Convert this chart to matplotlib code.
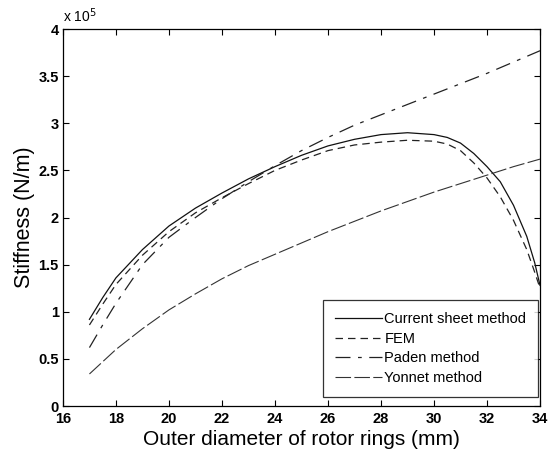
import matplotlib
matplotlib.use("Agg")
import matplotlib.pyplot as plt

# diameter (mm) and stiffness (x 1e5 N/m)
d_cs = [17, 17.5, 18, 19, 20, 21, 22, 23, 24, 25, 26, 27, 28, 29, 30, 30.5, 31, 31.5, 32, 32.5, 33, 33.5, 33.8, 34]
k_cs = [0.92, 1.15, 1.36, 1.66, 1.91, 2.10, 2.26, 2.41, 2.54, 2.66, 2.76, 2.83, 2.88, 2.90, 2.88, 2.85, 2.79, 2.68, 2.54, 2.38, 2.13, 1.80, 1.52, 1.28]

d_fem = [17, 17.5, 18, 19, 20, 21, 22, 23, 24, 25, 26, 27, 28, 29, 30, 30.5, 31, 31.5, 32, 32.5, 33, 33.5, 33.8, 34]
k_fem = [0.86, 1.08, 1.29, 1.60, 1.85, 2.05, 2.21, 2.36, 2.50, 2.61, 2.71, 2.77, 2.80, 2.82, 2.81, 2.78, 2.71, 2.58, 2.42, 2.22, 1.97, 1.66, 1.42, 1.25]

d_paden = [17, 17.5, 18, 19, 20, 21, 22, 23, 24, 25, 26, 27, 28, 29, 30, 31, 32, 33, 34]
k_paden = [0.62, 0.86, 1.09, 1.50, 1.79, 2.00, 2.20, 2.38, 2.55, 2.71, 2.85, 2.98, 3.09, 3.20, 3.31, 3.42, 3.53, 3.65, 3.77]

d_yon = [17, 18, 19, 20, 21, 22, 23, 24, 25, 26, 27, 28, 29, 30, 31, 32, 33, 34]
k_yon = [0.34, 0.60, 0.82, 1.02, 1.19, 1.35, 1.49, 1.61, 1.73, 1.85, 1.96, 2.07, 2.17, 2.27, 2.36, 2.45, 2.54, 2.62]

plt.rcParams['font.family'] = ['Liberation Sans', 'DejaVu Sans']

fig = plt.figure(figsize=(5.57, 4.54), dpi=100)
ax = fig.add_axes([0.113, 0.1057, 0.8565, 0.8303])

scale = 1e5
ax.plot(d_cs, [v * scale for v in k_cs], color="#111111", lw=0.9, ls="-", label="Current sheet method")
ax.plot(d_fem, [v * scale for v in k_fem], color="#222222", lw=0.9, ls=(0, (6, 4)), label="FEM")
ax.plot(d_paden, [v * scale for v in k_paden], color="#222222", lw=0.9, ls=(0, (12, 6, 3, 6)), label="Paden method")
ax.plot(d_yon, [v * scale for v in k_yon], color="#333333", lw=0.8, ls=(0, (14, 3)), label="Yonnet method")

ax.set_xlim(16, 34)
ax.set_ylim(0, 4e5)
ax.set_xticks(range(16, 35, 2))
ax.set_yticks([i * 0.5e5 for i in range(9)])
ax.set_yticklabels(["0", "0.5", "1", "1.5", "2", "2.5", "3", "3.5", "4"])
ax.tick_params(direction="in", top=True, right=True, length=4, width=0.8, labelsize=10.5)
ax.tick_params(axis="x", pad=4)
ax.tick_params(axis="y", pad=3)
for lab in ax.get_xticklabels() + ax.get_yticklabels():
    lab.set_fontweight("bold")
for s in ax.spines.values():
    s.set_linewidth(0.9)

ax.text(0.0, 1.012, r"x 10$^5$", transform=ax.transAxes, fontsize=10, ha="left", va="bottom")

ax.set_xlabel("Outer diameter of rotor rings (mm)", fontsize=15, labelpad=3)
ax.set_ylabel("Stiffness (N/m)", fontsize=15.5, labelpad=2)

leg = ax.legend(loc="lower right", fontsize=10.5, frameon=True, fancybox=False,
                edgecolor="black", handlelength=3.2, borderaxespad=0.0,
                bbox_to_anchor=(0.996, 0.024),
                labelspacing=0.4, handletextpad=0.2, borderpad=0.8)
leg.get_frame().set_linewidth(0.9)

fig.savefig("out.png", dpi=100)
